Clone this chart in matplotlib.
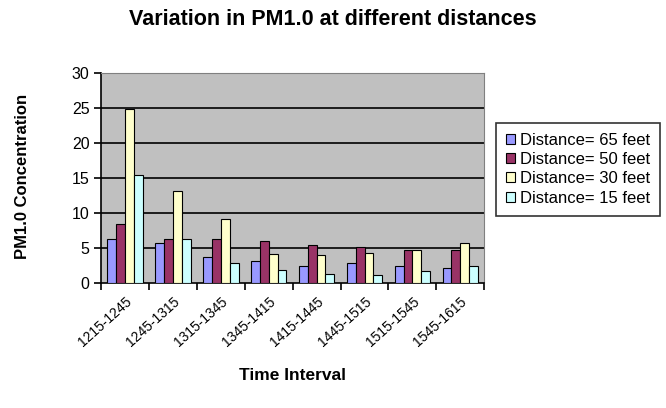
import matplotlib
matplotlib.use("Agg")
import matplotlib.pyplot as plt
import numpy as np

plt.rcParams['font.family'] = ['Liberation Sans', 'DejaVu Sans']

categories = ["1215-1245", "1245-1315", "1315-1345", "1345-1415",
              "1415-1445", "1445-1515", "1515-1545", "1545-1615"]
series_names = ["Distance= 65 feet", "Distance= 50 feet",
                "Distance= 30 feet", "Distance= 15 feet"]
d65 = [6.3, 5.7, 3.7, 3.1, 2.5, 2.9, 2.5, 2.2]
d50 = [8.4, 6.3, 6.3, 6.0, 5.5, 5.2, 4.8, 4.8]
d30 = [24.8, 13.2, 9.2, 4.2, 4.0, 4.3, 4.8, 5.7]
d15 = [15.5, 6.3, 2.9, 1.9, 1.3, 1.1, 1.7, 2.5]
colors = ["#9999FF", "#993366", "#FFFFCC", "#CCFFFF"]

fig = plt.figure(figsize=(6.66, 4.08), dpi=100)
ax = fig.add_axes([0.152, 0.306, 0.575, 0.515])
ax.set_facecolor("#C0C0C0")

x = np.arange(len(categories))
w = 0.185
for i, (vals, name, c) in enumerate(zip([d65, d50, d30, d15], series_names, colors)):
    ax.bar(x + (i - 1.5) * w, vals, w, color=c, edgecolor="black", linewidth=0.8,
           label=name, zorder=3)

ax.set_xlim(-0.5, len(categories) - 0.5)
ax.set_ylim(0, 30)
yticks = list(range(0, 31, 5))
ax.set_yticks(yticks)
for yv in yticks[1:-1]:
    ax.axhline(yv, color="black", linewidth=1.2, zorder=1)
for s in ["top", "right"]:
    ax.spines[s].set_color("#808080")
ax.spines["left"].set_color("black")
ax.spines["bottom"].set_color("black")
ax.spines["left"].set_linewidth(1.2)
ax.spines["bottom"].set_linewidth(1.2)

ax.set_xticks(np.arange(-0.5, len(categories) + 0.5, 1.0))
ax.set_xticklabels([])
ax.set_xticks(x, minor=True)
ax.set_xticklabels(categories, minor=True, rotation=42, ha="right", va="top",
                   rotation_mode="anchor", fontsize=10)
ax.tick_params(axis="x", which="minor", length=0, pad=8)
ax.tick_params(axis="x", which="major", length=5, direction="out", width=1.2)
ax.tick_params(axis="y", length=5, direction="out", labelsize=11.5, width=1.2)

ax.set_ylabel("PM1.0 Concentration", fontsize=12, fontweight="bold")
ax.yaxis.set_label_coords(-0.185, 0.51)
ax.set_xlabel("Time Interval", fontsize=12.5, fontweight="bold")
ax.xaxis.set_label_coords(0.5, -0.405)
fig.text(0.5, 0.951, "Variation in PM1.0 at different distances", fontsize=15.5,
         fontweight="bold", ha="center", va="center")

leg = ax.legend(loc="upper left", bbox_to_anchor=(1.031, 0.762), fontsize=12,
                frameon=True, fancybox=False, edgecolor="black",
                handlelength=0.55, handleheight=0.55, handletextpad=0.3,
                borderpad=0.6, labelspacing=0.25, borderaxespad=0)
leg.get_frame().set_linewidth(1.2)

fig.savefig("out.png", dpi=100)
